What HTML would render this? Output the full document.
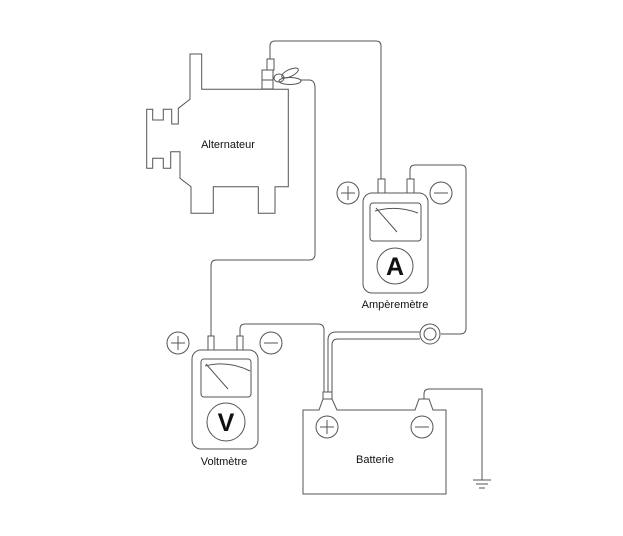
<!DOCTYPE html>
<html><head><style>html,body{margin:0;padding:0;background:#fff}svg{display:block}text{font-family:"Liberation Sans",sans-serif;fill:#111}</style></head><body>
<svg width="623" height="536" viewBox="0 0 623 536" xmlns="http://www.w3.org/2000/svg">
<g fill="none" stroke="#555" stroke-width="1">
<!-- alternator -->
<path d="M190,54 H201.7 V89.3 H288.3 V186.7 H275 V213.3 H258.3 V186.7 H213.3 V213.3 H191 V186.7 L180,178.3 V151.7 H170.7 V168.3 H163.3 V158.3 H152.7 V168.3 H146.7 V109.3 H152.7 V120 H163.3 V109.3 H171.7 V124 H178.3 V108.3 L190,99.3 Z"/>
<rect x="262" y="70" width="11" height="19"/>
<rect x="267" y="59" width="7" height="11"/>
<line x1="262" y1="80" x2="273" y2="80"/>
<ellipse cx="290" cy="73" rx="9" ry="3.5" transform="rotate(-25 290 73)"/>
<ellipse cx="290" cy="81" rx="11" ry="3.5"/>
<ellipse cx="279" cy="78" rx="5" ry="4"/>
<!-- wires -->
<path d="M270,59 V46 Q270,41 275,41 H376 Q381,41 381,46 V179"/>
<path d="M300,80 H309 Q315,80 315,88 V254 Q315,260 309,260 H216 Q211,260 211,266 V336"/>
<path d="M410,179 V170 Q410,165 415,165 H461 Q466,165 466,170 V328 Q466,334 460,334 H441"/>
<path d="M240,336 V329 Q240,324 245,324 H318 Q324,324 324,330 V392"/>
<path d="M420,332 H336 Q328,332 328,340 V392"/>
<path d="M420,339 H338 Q332,339 332,345 V392"/>
<circle cx="430" cy="334" r="10"/><circle cx="430" cy="334" r="6"/>
<!-- ammeter -->
<rect x="363" y="193" width="65" height="100" rx="9"/>
<rect x="370" y="203" width="51" height="38" rx="3"/>
<path d="M375,211 Q396,205 418,213"/>
<line x1="376" y1="208" x2="397" y2="232"/>
<circle cx="395" cy="266" r="18"/>
<rect x="378" y="179" width="7" height="14"/><rect x="407" y="179" width="7" height="14"/>
<circle cx="348" cy="193" r="11"/><path d="M341,193 H355 M348,186 V200"/>
<circle cx="441" cy="193" r="11"/><path d="M434,193 H448"/>
<!-- voltmeter -->
<rect x="192" y="350" width="66" height="99" rx="9"/>
<rect x="201" y="359" width="50" height="38" rx="3"/>
<path d="M205,366 Q228,360 250,371"/>
<line x1="206" y1="364" x2="228" y2="389"/>
<circle cx="226" cy="422" r="19"/>
<rect x="208" y="336" width="6" height="14"/><rect x="237" y="336" width="6" height="14"/>
<circle cx="178" cy="343" r="11"/><path d="M171,343 H185 M178,336 V350"/>
<circle cx="271" cy="343" r="11"/><path d="M264,343 H278"/>
<!-- battery -->
<path d="M303,494 V410 H319 L323,399 H332 L337,410 H415 L419,399 H429 L433,410 H446 V494 Z"/>
<rect x="323" y="392" width="9" height="7"/>
<circle cx="327" cy="427" r="11"/><path d="M320,427 H334 M327,420 V434"/>
<circle cx="422" cy="427" r="11"/><path d="M415,427 H429"/>
<path d="M424,399 V394 Q424,389 429,389 H482 V480"/>
<path d="M473,480 H491 M476,484 H488 M479,488 H485"/>
</g>
<text x="228" y="148" font-size="11" text-anchor="middle">Alternateur</text>
<text x="395" y="308" font-size="11" text-anchor="middle">Ampèremètre</text>
<text x="224" y="465" font-size="11" text-anchor="middle">Voltmètre</text>
<text x="375" y="463" font-size="11" text-anchor="middle">Batterie</text>
<text x="395" y="275" font-size="25" font-weight="bold" text-anchor="middle">A</text>
<text x="226" y="431" font-size="25" font-weight="bold" text-anchor="middle">V</text>
</svg>
</body></html>
